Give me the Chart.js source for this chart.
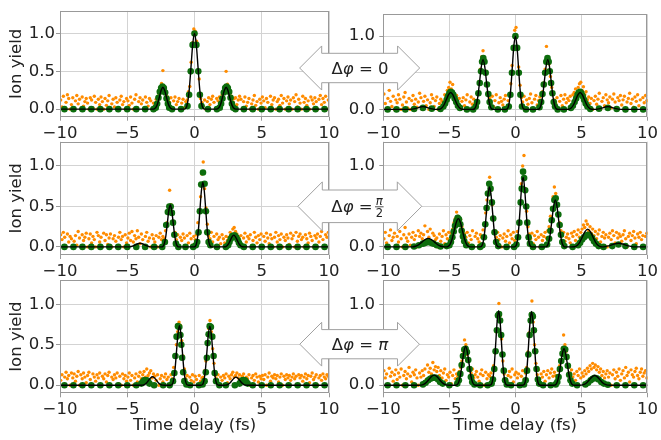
<!DOCTYPE html>
<html><head><meta charset="utf-8">
<script src="https://cdn.jsdelivr.net/npm/chart.js@4.4.1/dist/chart.umd.min.js"></script>
<style>
html,body{margin:0;padding:0;background:#fff;width:661px;height:440px;overflow:hidden}
#wrap{position:relative;width:661px;height:440px}
canvas{position:absolute;left:0;top:0}
svg{position:absolute;left:0;top:0}
</style></head><body><div id="wrap"></div>
<script>
// ---------- DATA ----------
const xTickValues = [-10, -5, 0, 5, 10];
const xTickLabels = ['\u221210', '\u22125', '0', '5', '10'];
const yTickValues = [0, 0.5, 1.0];
const yTickLabels = ['0.0', '0.5', '1.0'];
const phaseLabels = ['0', '\u03c0/2', '\u03c0'];

// time delays of the measured (orange) samples, fs
const delayGrid = [
-9.95,-9.85,-9.75,-9.65,-9.55,-9.45,-9.35,-9.25,-9.15,-9.05,
-8.95,-8.85,-8.75,-8.65,-8.55,-8.45,-8.35,-8.25,-8.15,-8.05,
-7.95,-7.85,-7.75,-7.65,-7.55,-7.45,-7.35,-7.25,-7.15,-7.05,
-6.95,-6.85,-6.75,-6.65,-6.55,-6.45,-6.35,-6.25,-6.15,-6.05,
-5.95,-5.85,-5.75,-5.65,-5.55,-5.45,-5.35,-5.25,-5.15,-5.05,
-4.95,-4.85,-4.75,-4.65,-4.55,-4.45,-4.35,-4.25,-4.15,-4.05,
-3.95,-3.85,-3.75,-3.65,-3.55,-3.45,-3.35,-3.25,-3.15,-3.05,
-2.95,-2.85,-2.75,-2.65,-2.55,-2.45,-2.35,-2.25,-2.15,-2.05,
-1.95,-1.85,-1.75,-1.65,-1.55,-1.45,-1.35,-1.25,-1.15,-1.05,
-0.95,-0.85,-0.75,-0.65,-0.55,-0.45,-0.35,-0.25,-0.15,-0.05,
0.05,0.15,0.25,0.35,0.45,0.55,0.65,0.75,0.85,0.95,
1.05,1.15,1.25,1.35,1.45,1.55,1.65,1.75,1.85,1.95,
2.05,2.15,2.25,2.35,2.45,2.55,2.65,2.75,2.85,2.95,
3.05,3.15,3.25,3.35,3.45,3.55,3.65,3.75,3.85,3.95,
4.05,4.15,4.25,4.35,4.45,4.55,4.65,4.75,4.85,4.95,
5.05,5.15,5.25,5.35,5.45,5.55,5.65,5.75,5.85,5.95,
6.05,6.15,6.25,6.35,6.45,6.55,6.65,6.75,6.85,6.95,
7.05,7.15,7.25,7.35,7.45,7.55,7.65,7.75,7.85,7.95,
8.05,8.15,8.25,8.35,8.45,8.55,8.65,8.75,8.85,8.95,
9.05,9.15,9.25,9.35,9.45,9.55,9.65,9.75,9.85,9.95];

// measured ion yield (orange) per panel
const orangeA = [
0.12,0.03,0.17,0,0.09,0.19,0.14,0,0.06,0.15,
0,0.11,0.18,0.07,0.13,0,0.16,0.04,0.1,0.14,
0.08,0,0.15,0.12,0.02,0.17,0.09,0,0.13,0.06,
0.16,0.1,0,0.14,0.05,0.11,0.18,0,0.07,0.13,
0.03,0.15,0.09,0,0.12,0.17,0.06,0.1,0,0.14,
0.11,0.05,0.16,0.08,0,0.13,0.19,0.02,0.1,0.15,
0.07,0.12,0,0.16,0.09,0.04,0.14,0.11,0,0.08,
0.05,0.13,0.03,0.18,0.27,0.34,0.51,0.3,0.24,0.17,
0.12,0.09,0.15,0,0.11,0.16,0.06,0.1,0.14,0,
0.08,0.13,0.02,0.1,0.12,0.23,0.3,0.62,0.88,1.06,
1.03,0.9,0.52,0.4,0.14,0.09,0.04,0.12,0,0.1,
0.15,0.06,0.13,0.17,0.09,0,0.14,0.11,0.16,0.08,
0.19,0.22,0.3,0.5,0.33,0.28,0.21,0.17,0.1,0.14,
0.15,0.06,0.12,0.17,0.13,0,0.1,0.16,0.04,0.09,
0.14,0,0.07,0.12,0.18,0.05,0.1,0,0.13,0.08,
0.16,0.11,0.02,0.14,0.09,0,0.17,0.06,0.12,0.15,
0,0.1,0.13,0.05,0.18,0.08,0.14,0,0.11,0.16,
0.07,0.12,0,0.15,0.1,0.19,0.03,0.13,0.08,0,
0.17,0.09,0.14,0.05,0.11,0,0.16,0.12,0.07,0.15,
0.1,0,0.13,0.18,0.06,0.14,0.09,0.17,0,0.12];
const orangeB = [
0.21,0.08,0,0.15,0.26,0.11,0.04,0.18,0,0.13,
0.09,0.2,0.14,0,0.06,0.17,0.23,0.1,0.02,0.15,
0,0.12,0.19,0.07,0.14,0.03,0.1,0.22,0.16,0,
0.11,0.18,0.05,0.13,0,0.09,0.2,0.15,0.04,0.12,
0.17,0,0.08,0.14,0.11,0.06,0.2,0.18,0.26,0.3,
0.37,0.28,0.34,0.21,0.14,0.19,0.08,0.15,0,0.11,
0.16,0.05,0.13,0.2,0,0.1,0.17,0.07,0.14,0.09,
0.12,0.21,0.38,0.55,0.72,0.8,0.66,0.52,0.34,0.22,
0.15,0.08,0.18,0.04,0.12,0.2,0,0.09,0.16,0.11,
0.06,0.14,0.19,0.03,0.12,0.2,0.35,0.6,0.86,1.08,
1.12,0.84,0.58,0.33,0.16,0.1,0.18,0,0.13,0.07,
0.15,0.21,0.09,0,0.14,0.19,0.06,0.12,0.17,0.1,
0.24,0.36,0.55,0.86,0.72,0.62,0.45,0.3,0.2,0.13,
0.08,0.16,0,0.11,0.19,0.05,0.14,0.2,0.09,0.15,
0.12,0.18,0.04,0.2,0.23,0.28,0.19,0.3,0.35,0.37,
0.26,0.31,0.2,0.24,0.13,0.17,0.08,0.15,0,0.12,
0.18,0.07,0.14,0.22,0,0.11,0.16,0.05,0.2,0.13,
0.09,0.17,0.02,0.14,0.21,0.1,0,0.16,0.12,0.19,
0.06,0.13,0.18,0,0.1,0.15,0.22,0.08,0.14,0.03,
0.17,0.11,0.2,0.05,0.13,0,0.16,0.09,0.19,0.12];
const orangeC = [
0.15,0.09,0.18,0.12,0,0.16,0.06,0.13,0.1,0,
0.07,0.14,0.02,0.19,0.11,0,0.15,0.08,0.12,0.17,
0,0.1,0.16,0.05,0.13,0.09,0,0.18,0.14,0.06,
0.12,0,0.17,0.08,0.15,0.03,0.11,0.16,0,0.1,
0.14,0.07,0,0.12,0.18,0.09,0.13,0,0.15,0.05,
0.11,0.17,0.08,0.19,0.06,0.14,0.1,0.2,0.12,0.04,
0.16,0.09,0,0.13,0.18,0.07,0.11,0,0.15,0.1,
0.06,0.14,0,0.12,0.17,0.09,0.13,0.1,0.2,0.3,
0.45,0.7,0.52,0.42,0.3,0.18,0.09,0.15,0,0.12,
0.08,0.16,0.11,0,0.14,0.05,0.17,0.1,0.02,0.13,
0.09,0.15,0.3,0.45,0.62,0.9,1.05,0.72,0.48,0.28,
0.14,0.1,0.18,0.06,0.13,0,0.16,0.09,0.12,0.04,
0.15,0.1,0.05,0.13,0.08,0.12,0.18,0.15,0.22,0.24,
0.19,0.16,0.12,0.09,0.14,0,0.11,0.17,0.06,0.13,
0.1,0.15,0,0.08,0.18,0.12,0.05,0.14,0.09,0.16,
0,0.13,0.07,0.17,0.11,0.04,0.15,0.1,0,0.12,
0.18,0.06,0.14,0.09,0.16,0,0.12,0.08,0.15,0.11,
0.03,0.17,0.1,0.14,0,0.18,0.07,0.13,0.16,0.09,
0.12,0,0.15,0.1,0.05,0.17,0.13,0.08,0,0.14,
0.11,0.16,0.06,0.13,0.19,0.09,0,0.15,0.12,0.18];
const orangeD = [
0.1,0.18,0.05,0,0.14,0.21,0.08,0.12,0.17,0,
0.13,0.06,0.19,0.1,0,0.15,0.24,0.11,0.07,0.16,
0.02,0.12,0.18,0.09,0.14,0,0.2,0.13,0.17,0.1,
0.15,0.26,0.08,0.19,0.12,0.22,0.06,0.17,0.14,0.09,
0.11,0,0.16,0.07,0.13,0.2,0.04,0.15,0.1,0.18,
0.08,0.17,0.22,0.3,0.35,0.43,0.38,0.3,0.34,0.25,
0.2,0.16,0.12,0.18,0.05,0.14,0.09,0.2,0,0.13,
0.17,0.1,0.06,0.15,0.12,0.21,0.29,0.42,0.58,0.78,
0.86,0.7,0.52,0.35,0.2,0.12,0.18,0.09,0.14,0,
0.11,0.16,0.07,0.13,0.2,0.05,0.15,0.1,0.18,0.08,
0.13,0.19,0.3,0.55,0.78,1.0,1.13,0.72,0.44,0.25,
0.16,0.1,0.17,0.04,0.14,0.09,0.19,0.12,0,0.15,
0.08,0.13,0.18,0.11,0.2,0.25,0.38,0.48,0.62,0.74,
0.66,0.52,0.4,0.3,0.2,0.14,0.18,0.07,0.12,0.16,
0.1,0.05,0.17,0.13,0.19,0.08,0.15,0.21,0.12,0.18,
0.22,0.27,0.24,0.32,0.28,0.2,0.25,0.17,0.22,0.14,
0.19,0.1,0.16,0.21,0.06,0.13,0.18,0.11,0.15,0,
0.12,0.17,0.09,0.2,0.14,0.05,0.18,0.11,0.16,0.13,
0.07,0.15,0.2,0.1,0,0.13,0.17,0.08,0.14,0.19,
0.11,0.04,0.16,0.12,0.18,0.09,0.14,0,0.13,0.17];
const orangeE = [
0.06,0.13,0,0.1,0.16,0.08,0.12,0,0.15,0.09,
0.14,0.05,0.11,0.17,0,0.13,0.08,0.15,0.1,0.03,
0.12,0.16,0.07,0,0.14,0.1,0.05,0.13,0.09,0.15,
0,0.11,0.08,0.14,0.04,0.12,0.16,0,0.1,0.07,
0.13,0.09,0.15,0.02,0.11,0,0.14,0.08,0.12,0.05,
0.1,0.15,0.06,0.12,0,0.09,0.14,0.04,0.11,0.16,
0.08,0.13,0.17,0.1,0.2,0.12,0.15,0.18,0.09,0.14,
0.11,0.06,0.13,0,0.08,0.12,0.04,0.1,0.14,0.07,
0.1,0,0.13,0.08,0.22,0.35,0.5,0.66,0.78,0.74,
0.55,0.36,0.2,0.08,0.12,0,0.1,0.06,0.13,0.04,
0.11,0.07,0,0.12,0.05,0.09,0.1,0.18,0.3,0.52,
0.7,0.8,0.66,0.45,0.27,0.12,0.08,0.13,0,0.1,
0.06,0.12,0.09,0.14,0.03,0.11,0.08,0.13,0.16,0.1,
0.12,0.15,0.09,0.13,0.07,0.11,0.14,0.05,0.1,0.08,
0.13,0,0.09,0.12,0.06,0.14,0.1,0.04,0.11,0.08,
0.12,0.07,0.13,0,0.1,0.15,0.05,0.11,0.09,0.13,
0.08,0.12,0.04,0.1,0.14,0,0.11,0.07,0.13,0.09,
0.12,0.06,0.1,0.14,0.08,0.11,0,0.13,0.09,0.12,
0.05,0.1,0.14,0.08,0.12,0.03,0.11,0.15,0.07,0.1,
0.13,0,0.09,0.12,0.06,0.14,0.1,0.08,0.13,0.11];
const orangeF = [
0.18,0.09,0.14,0,0.21,0.11,0.16,0.05,0.13,0.19,
0.07,0.15,0.1,0.2,0,0.12,0.17,0.08,0.14,0.22,
0.11,0.04,0.16,0.13,0.19,0.09,0,0.15,0.1,0.18,
0.12,0.2,0.07,0.25,0.16,0.21,0.14,0.28,0.19,0.23,
0.17,0.22,0.12,0.18,0.09,0.15,0.2,0.06,0.13,0.1,
0.16,0.02,0.12,0.19,0.08,0.14,0.11,0.17,0.22,0.3,
0.42,0.56,0.5,0.38,0.33,0.22,0.15,0.2,0.09,0.13,
0.17,0.1,0.05,0.14,0.19,0.12,0,0.16,0.08,0.13,
0.11,0.15,0.09,0.24,0.4,0.66,0.88,1.01,0.86,0.57,
0.3,0.14,0.18,0.06,0.12,0.17,0.1,0.2,0.04,0.13,
0.16,0.09,0.14,0,0.11,0.18,0.07,0.15,0.22,0.41,
0.65,0.88,1.04,0.78,0.5,0.27,0.13,0.19,0.08,0.14,
0.1,0.17,0.05,0.13,0.18,0.09,0.15,0.2,0.11,0.16,
0.12,0.08,0.18,0.24,0.3,0.45,0.62,0.5,0.42,0.34,
0.22,0.15,0.19,0.1,0.14,0.06,0.17,0.12,0.2,0.09,
0.15,0.11,0.18,0.14,0.21,0.17,0.24,0.2,0.27,0.22,
0.25,0.19,0.23,0.16,0.2,0.12,0.17,0.09,0.14,0.18,
0.1,0.15,0,0.13,0.19,0.08,0.16,0.11,0.2,0.06,
0.14,0.18,0.09,0.22,0.12,0.16,0.04,0.19,0.13,0.1,
0.17,0.21,0.12,0.08,0.16,0.2,0.11,0.15,0.18,0.09];

// retrieved yield (green dots) per panel, [delay, yield]
const greenA = [[-9.67,0],[-9,0],[-8.33,0],[-7.67,0],[-7,0],[-6.33,0],[-5.67,0],[-5,0],[-4.33,0],[-3.67,0],[-3.05,0],
[-2.88,0.02],[-2.78,0.07],[-2.68,0.15],[-2.58,0.23],[-2.48,0.28],[-2.38,0.3],[-2.28,0.28],[-2.18,0.22],[-2.08,0.14],[-1.98,0.07],[-1.88,0.02],[-1.67,0],[-1,0],
[-0.52,0.04],[-0.4,0.19],[-0.28,0.5],[-0.14,0.85],[0,1],[0.14,0.85],[0.28,0.5],[0.4,0.19],[0.52,0.04],
[1,0],[1.67,0],[1.88,0.02],[1.98,0.07],[2.08,0.14],[2.18,0.22],[2.28,0.28],[2.38,0.3],[2.48,0.28],[2.58,0.23],[2.68,0.15],[2.78,0.07],[2.88,0.02],[3.05,0],
[3.67,0],[4.33,0],[5,0],[5.67,0],[6.33,0],[7,0],[7.67,0],[8.33,0],[9,0],[9.67,0]];
const greenB = [[-9.67,0],[-9,0],[-8.33,0],[-7.67,0.005],[-7,0.02],[-6.33,0.01],[-5.67,0.005],
[-5.45,0.04],[-5.32,0.08],[-5.2,0.13],[-5.1,0.18],[-5.0,0.22],[-4.9,0.24],[-4.8,0.23],[-4.7,0.2],[-4.6,0.15],[-4.48,0.1],[-4.35,0.05],[-4.2,0.02],[-3.67,0],[-3.2,0],
[-3.0,0.04],[-2.9,0.1],[-2.8,0.22],[-2.7,0.36],[-2.6,0.52],[-2.52,0.65],[-2.43,0.7],[-2.34,0.65],[-2.25,0.5],[-2.15,0.34],[-2.05,0.21],[-1.95,0.1],[-1.82,0.03],[-1.33,0],[-0.8,0],
[-0.5,0.04],[-0.38,0.2],[-0.26,0.5],[-0.13,0.84],[0,1],[0.13,0.84],[0.26,0.5],[0.38,0.2],[0.5,0.04],
[0.8,0],[1.33,0],[1.82,0.03],[1.95,0.1],[2.05,0.21],[2.15,0.34],[2.25,0.5],[2.34,0.65],[2.43,0.7],[2.52,0.65],[2.6,0.52],[2.7,0.36],[2.8,0.22],[2.9,0.1],[3.0,0.04],[3.2,0],[3.67,0],
[4.2,0.02],[4.35,0.05],[4.48,0.1],[4.6,0.15],[4.7,0.2],[4.8,0.23],[4.9,0.24],[5.0,0.22],[5.1,0.18],[5.2,0.13],[5.32,0.08],[5.45,0.04],[5.67,0.005],[6.33,0.01],[7,0.02],[7.67,0.005],[8.33,0],[9,0],[9.67,0]];
const greenC = [[-9.67,0],[-9,0],[-8.33,0],[-7.67,0],[-7,0],[-6.33,0],[-5.67,0],[-5,0],[-4.33,0],[-3.67,0],[-3,0],[-2.4,0],
[-2.2,0.06],[-2.1,0.27],[-1.98,0.43],[-1.87,0.5],[-1.77,0.5],[-1.68,0.42],[-1.6,0.3],[-1.5,0.15],[-1.38,0.04],[-1.2,0],[-0.67,0],[-0.1,0],
[0.1,0.02],[0.2,0.06],[0.3,0.18],[0.4,0.44],[0.5,0.77],[0.63,0.92],[0.75,0.78],[0.85,0.44],[0.95,0.18],[1.05,0.06],[1.18,0.02],[1.67,0],[2.33,0],
[2.5,0.02],[2.6,0.06],[2.7,0.1],[2.8,0.13],[2.9,0.14],[3.0,0.14],[3.1,0.12],[3.2,0.09],[3.3,0.05],[3.42,0.02],[3.67,0],
[4.33,0],[5,0],[5.67,0],[6.33,0],[7,0],[7.67,0],[8.33,0],[9,0],[9.67,0]];
const greenD = [[-9.67,0],[-9,0],[-8.33,0],[-7.67,0.005],[-7.3,0.02],[-7.0,0.04],[-6.8,0.05],[-6.6,0.06],[-6.4,0.05],[-6.2,0.04],[-5.95,0.02],[-5.67,0.005],[-5.2,0.01],
[-5.0,0.02],[-4.88,0.06],[-4.77,0.12],[-4.67,0.19],[-4.57,0.26],[-4.47,0.32],[-4.37,0.36],[-4.27,0.34],[-4.17,0.28],[-4.07,0.2],[-3.97,0.13],[-3.87,0.07],[-3.72,0.02],[-3.3,0],[-2.67,0],
[-2.5,0.02],[-2.38,0.12],[-2.28,0.28],[-2.18,0.48],[-2.08,0.66],[-1.98,0.78],[-1.88,0.72],[-1.78,0.55],[-1.68,0.35],[-1.58,0.18],[-1.46,0.06],[-1.3,0.01],[-0.67,0],[-0.1,0],
[0.08,0.03],[0.2,0.12],[0.3,0.3],[0.4,0.55],[0.48,0.72],[0.58,0.93],[0.66,0.85],[0.74,0.7],[0.82,0.5],[0.9,0.3],[1.0,0.12],[1.1,0.04],[1.33,0],[2.0,0],
[2.4,0.03],[2.55,0.1],[2.65,0.2],[2.75,0.33],[2.85,0.47],[2.95,0.58],[3.05,0.6],[3.15,0.52],[3.25,0.4],[3.35,0.27],[3.45,0.15],[3.55,0.06],[3.7,0.01],[4.33,0],
[4.75,0.02],[4.9,0.05],[5.05,0.09],[5.2,0.12],[5.35,0.14],[5.5,0.15],[5.65,0.14],[5.8,0.11],[5.95,0.07],[6.1,0.04],[6.3,0.01],[6.67,0],[7.33,0.01],[7.8,0.03],[8.33,0.01],[9,0],[9.67,0]];
const greenE = [[-9.67,0],[-9,0],[-8.33,0],[-7.67,0],[-7,0],[-6.33,0],[-5.67,0],[-5,0],[-4.33,0],
[-3.95,0.02],[-3.85,0.04],[-3.75,0.06],[-3.65,0.065],[-3.55,0.06],[-3.45,0.045],[-3.35,0.02],[-3.0,0],[-2.33,0],[-1.85,0],
[-1.6,0.05],[-1.5,0.15],[-1.42,0.36],[-1.33,0.6],[-1.23,0.73],[-1.13,0.72],[-1.05,0.62],[-0.98,0.5],[-0.92,0.34],[-0.84,0.16],[-0.75,0.05],[-0.6,0.01],[-0.33,0],
[0.33,0],[0.6,0.01],[0.75,0.05],[0.84,0.16],[0.92,0.34],[0.98,0.52],[1.05,0.63],[1.13,0.73],[1.22,0.72],[1.32,0.6],[1.42,0.36],[1.5,0.15],[1.6,0.05],[1.85,0],[2.33,0],[3.0,0],
[3.35,0.02],[3.45,0.045],[3.55,0.06],[3.65,0.065],[3.75,0.06],[3.85,0.04],[3.95,0.02],[4.33,0],[5,0],[5.67,0],[6.33,0],[7,0],[7.67,0],[8.33,0],[9,0],[9.67,0]];
const greenF = [[-9.67,0],[-9,0],[-8.33,0],[-7.67,0],[-7.0,0.01],[-6.8,0.03],[-6.6,0.06],[-6.45,0.08],[-6.3,0.09],[-6.15,0.095],[-6.0,0.09],[-5.85,0.07],[-5.7,0.04],[-5.5,0.02],[-5.0,0],
[-4.4,0.02],[-4.28,0.06],[-4.17,0.14],[-4.07,0.25],[-3.97,0.36],[-3.87,0.44],[-3.77,0.45],[-3.67,0.41],[-3.57,0.31],[-3.47,0.2],[-3.37,0.1],[-3.27,0.04],[-3.1,0.01],[-2.67,0],[-2.1,0],
[-1.8,0.02],[-1.7,0.07],[-1.6,0.2],[-1.5,0.42],[-1.4,0.68],[-1.32,0.86],[-1.24,0.88],[-1.16,0.8],[-1.08,0.62],[-0.98,0.38],[-0.88,0.18],[-0.78,0.06],[-0.65,0.01],[-0.33,0],
[0.33,0],[0.65,0.01],[0.78,0.06],[0.88,0.18],[0.98,0.38],[1.08,0.62],[1.16,0.8],[1.24,0.87],[1.32,0.85],[1.4,0.68],[1.5,0.42],[1.6,0.2],[1.7,0.07],[1.8,0.02],[2.1,0],[2.67,0],
[3.05,0.01],[3.17,0.04],[3.27,0.1],[3.37,0.2],[3.47,0.3],[3.57,0.39],[3.67,0.45],[3.77,0.44],[3.87,0.35],[3.97,0.24],[4.07,0.13],[4.17,0.06],[4.3,0.02],[4.67,0],
[5.3,0.01],[5.5,0.03],[5.7,0.06],[5.85,0.08],[6.0,0.09],[6.15,0.085],[6.3,0.07],[6.5,0.04],[6.7,0.02],[7.0,0.005],[7.67,0],[8.33,0],[9,0],[9.67,0]];

// simulated yield (black line) per panel, [delay, yield]
const blackA = [[-10,0],[-3.13,0],[-3.0,0.003],[-2.87,0.023],[-2.74,0.075],[-2.61,0.162],[-2.48,0.249],[-2.35,0.29],[-2.22,0.249],[-2.09,0.162],[-1.96,0.075],[-1.83,0.023],[-1.7,0.003],[-1.57,0],
[-0.78,0],[-0.65,0.01],[-0.52,0.08],[-0.39,0.26],[-0.26,0.56],[-0.13,0.86],[0,1],[0.13,0.86],[0.26,0.56],[0.39,0.26],[0.52,0.08],[0.65,0.01],[0.78,0],
[1.57,0],[1.7,0.003],[1.83,0.023],[1.96,0.075],[2.09,0.162],[2.22,0.249],[2.35,0.29],[2.48,0.249],[2.61,0.162],[2.74,0.075],[2.87,0.023],[3.0,0.003],[3.13,0],[10,0]];
const blackB = [[-10,0],[-8.2,0],[-8.0,0.0004],[-7.8,0.003],[-7.6,0.01],[-7.4,0.021],[-7.2,0.032],[-7.0,0.037],[-6.8,0.032],[-6.6,0.021],[-6.4,0.01],[-6.2,0.003],[-6.05,0],
[-5.75,0.002],[-5.58,0.018],[-5.41,0.06],[-5.24,0.129],[-5.07,0.198],[-4.9,0.23],[-4.73,0.198],[-4.56,0.129],[-4.39,0.06],[-4.22,0.018],[-4.05,0.002],[-3.88,0],
[-3.23,0],[-3.1,0.007],[-2.97,0.054],[-2.84,0.177],[-2.71,0.381],[-2.58,0.585],[-2.45,0.68],[-2.32,0.585],[-2.19,0.381],[-2.06,0.177],[-1.93,0.054],[-1.8,0.007],[-1.67,0],
[-0.72,0],[-0.6,0.01],[-0.48,0.08],[-0.36,0.26],[-0.24,0.56],[-0.12,0.86],[0,1],[0.12,0.86],[0.24,0.56],[0.36,0.26],[0.48,0.08],[0.6,0.01],[0.72,0],
[1.67,0],[1.8,0.007],[1.93,0.054],[2.06,0.177],[2.19,0.381],[2.32,0.585],[2.45,0.68],[2.58,0.585],[2.71,0.381],[2.84,0.177],[2.97,0.054],[3.1,0.007],[3.23,0],
[3.88,0],[4.05,0.002],[4.22,0.018],[4.39,0.06],[4.56,0.129],[4.73,0.198],[4.9,0.23],[5.07,0.198],[5.24,0.129],[5.41,0.06],[5.58,0.018],[5.75,0.002],[6.05,0],
[6.2,0.003],[6.4,0.01],[6.6,0.021],[6.8,0.032],[7.0,0.037],[7.2,0.032],[7.4,0.021],[7.6,0.01],[7.8,0.003],[8.0,0.0004],[8.2,0],[10,0]];
const blackC = [[-10,0],[-5.07,0],[-4.9,0.0005],[-4.73,0.004],[-4.56,0.012],[-4.39,0.025],[-4.22,0.039],[-4.05,0.045],[-3.88,0.039],[-3.71,0.025],[-3.54,0.012],[-3.37,0.004],[-3.2,0.0005],[-3.03,0],
[-2.46,0],[-2.35,0.005],[-2.24,0.042],[-2.13,0.135],[-2.02,0.291],[-1.91,0.447],[-1.8,0.52],[-1.69,0.447],[-1.58,0.291],[-1.47,0.135],[-1.36,0.042],[-1.25,0.005],[-1.14,0],
[-0.04,0],[0.07,0.008],[0.18,0.064],[0.29,0.208],[0.4,0.448],[0.51,0.688],[0.62,0.8],[0.73,0.688],[0.84,0.448],[0.95,0.208],[1.06,0.064],[1.17,0.008],[1.28,0],
[2.14,0],[2.27,0.0015],[2.4,0.012],[2.53,0.038],[2.66,0.081],[2.79,0.125],[2.92,0.145],[3.05,0.125],[3.18,0.081],[3.31,0.038],[3.44,0.012],[3.57,0.0015],[3.7,0],[10,0]];
const blackD = [[-10,0],[-8.04,0],[-7.8,0.001],[-7.56,0.008],[-7.32,0.027],[-7.08,0.059],[-6.84,0.09],[-6.6,0.105],[-6.36,0.09],[-6.12,0.059],[-5.88,0.027],[-5.64,0.008],[-5.4,0.001],
[-5.28,0],[-5.12,0.0035],[-4.96,0.028],[-4.8,0.091],[-4.64,0.196],[-4.48,0.301],[-4.32,0.35],[-4.16,0.301],[-4.0,0.196],[-3.84,0.091],[-3.68,0.028],[-3.52,0.0035],[-3.36,0],
[-2.68,0],[-2.56,0.007],[-2.44,0.059],[-2.32,0.192],[-2.2,0.414],[-2.08,0.636],[-1.96,0.74],[-1.84,0.636],[-1.72,0.414],[-1.6,0.192],[-1.48,0.059],[-1.36,0.007],[-1.24,0],
[-0.08,0],[0.03,0.009],[0.14,0.069],[0.25,0.224],[0.36,0.482],[0.47,0.74],[0.58,0.86],[0.69,0.74],[0.8,0.482],[0.91,0.224],[1.02,0.069],[1.13,0.009],[1.24,0],
[2.24,0],[2.37,0.006],[2.5,0.046],[2.63,0.151],[2.76,0.325],[2.89,0.499],[3.02,0.58],[3.15,0.499],[3.28,0.325],[3.41,0.151],[3.54,0.046],[3.67,0.006],[3.8,0],
[4.27,0],[4.47,0.002],[4.67,0.018],[4.87,0.057],[5.07,0.123],[5.27,0.189],[5.47,0.22],[5.67,0.189],[5.87,0.123],[6.07,0.057],[6.27,0.018],[6.47,0.002],
[6.55,0.0005],[6.8,0.004],[7.05,0.012],[7.3,0.025],[7.55,0.039],[7.8,0.045],[8.05,0.039],[8.3,0.025],[8.55,0.012],[8.8,0.004],[9.05,0.0005],[9.3,0],[10,0]];
const blackE = [[-10,0],[-4.02,0],[-3.87,0.001],[-3.72,0.008],[-3.57,0.027],[-3.42,0.059],[-3.27,0.09],[-3.12,0.105],[-2.97,0.09],[-2.82,0.059],[-2.67,0.027],[-2.52,0.008],[-2.37,0.001],[-2.22,0],
[-1.78,0],[-1.67,0.007],[-1.56,0.059],[-1.45,0.191],[-1.34,0.412],[-1.23,0.632],[-1.12,0.735],[-1.01,0.632],[-0.9,0.412],[-0.79,0.191],[-0.68,0.059],[-0.57,0.007],[-0.46,0],
[0.48,0],[0.59,0.007],[0.7,0.058],[0.81,0.19],[0.92,0.409],[1.03,0.628],[1.14,0.73],[1.25,0.628],[1.36,0.409],[1.47,0.19],[1.58,0.058],[1.69,0.007],[1.8,0],
[2.18,0],[2.33,0.001],[2.48,0.008],[2.63,0.026],[2.78,0.056],[2.93,0.086],[3.08,0.1],[3.23,0.086],[3.38,0.056],[3.53,0.026],[3.68,0.008],[3.83,0.001],[3.98,0],[10,0]];
const blackF = [[-10,0],[-7.35,0],[-7.15,0.001],[-6.95,0.01],[-6.75,0.033],[-6.55,0.07],[-6.35,0.108],[-6.15,0.125],[-5.95,0.108],[-5.75,0.07],[-5.55,0.033],[-5.35,0.01],[-5.15,0.001],[-4.95,0],
[-4.55,0],[-4.42,0.005],[-4.29,0.038],[-4.16,0.125],[-4.03,0.269],[-3.9,0.413],[-3.77,0.48],[-3.64,0.413],[-3.51,0.269],[-3.38,0.125],[-3.25,0.038],[-3.12,0.005],[-2.99,0],
[-1.93,0],[-1.82,0.009],[-1.71,0.074],[-1.6,0.239],[-1.49,0.515],[-1.38,0.791],[-1.27,0.92],[-1.16,0.791],[-1.05,0.515],[-0.94,0.239],[-0.83,0.074],[-0.72,0.009],[-0.61,0],
[0.56,0],[0.67,0.009],[0.78,0.073],[0.89,0.237],[1.0,0.51],[1.11,0.783],[1.22,0.91],[1.33,0.783],[1.44,0.51],[1.55,0.237],[1.66,0.073],[1.77,0.009],[1.88,0],
[2.9,0],[3.03,0.0045],[3.16,0.036],[3.29,0.117],[3.42,0.252],[3.55,0.387],[3.68,0.45],[3.81,0.387],[3.94,0.252],[4.07,0.117],[4.2,0.036],[4.33,0.0045],[4.46,0],
[4.8,0],[5.0,0.001],[5.2,0.01],[5.4,0.031],[5.6,0.067],[5.8,0.103],[6.0,0.12],[6.2,0.103],[6.4,0.067],[6.6,0.031],[6.8,0.01],[7.0,0.001],[7.2,0],[10,0]];

// ---------- LAYOUT ----------
const W = 661, H = 440;
const colBox = [[60, 329], [383.3, 651]];
const rowBox = [[3.3, 116.7], [141.7, 255], [280, 393.3]];
const FONT = 'DejaVu Sans';
const wrap = document.getElementById('wrap');

const framePlugin = {
  id: 'frame',
  afterDraw(chart) {
    const {ctx, chartArea: a} = chart;
    ctx.save();
    ctx.strokeStyle = '#999999';
    ctx.lineWidth = 1;
    ctx.strokeRect(Math.round(a.left) + 0.5, Math.round(a.top) + 0.5, Math.round(a.right - a.left) - 1, Math.round(a.bottom - a.top) - 1);
    ctx.restore();
  }
};

const pairs = arr => arr.map(p => ({x: p[0], y: p[1]}));

function panel(col, row, black, green, orange) {
  const c = document.createElement('canvas');
  c.width = W; c.height = H;
  wrap.appendChild(c);
  const [L, R] = colBox[col];
  const [T, B] = rowBox[row];
  const yW = 60, xH = 46;
  new Chart(c, {
    type: 'scatter',
    data: {datasets: [
      {data: pairs(black), showLine: true, borderColor: '#000', borderWidth: 1.4, pointRadius: 0, cubicInterpolationMode: 'monotone'},
      {data: pairs(green), showLine: false, pointRadius: 3.3, backgroundColor: '#0d6d0d', borderWidth: 0},
      {data: delayGrid.map((x, i) => ({x: x, y: orange[i]})), showLine: false, pointRadius: 1.7, backgroundColor: '#ff8c00', borderWidth: 0}
    ]},
    options: {
      responsive: false, animation: false, events: [],
      layout: {padding: {left: L - yW, right: W - R, top: T, bottom: H - B - xH}},
      plugins: {legend: {display: false}, tooltip: {enabled: false}},
      scales: {
        x: {
          type: 'linear', min: -10, max: 10,
          afterFit: s => { s.height = xH; },
          afterBuildTicks: s => { s.ticks = xTickValues.map(v => ({value: v})); },
          grid: {color: '#d3d3d3', lineWidth: 1, tickColor: '#999999', tickLength: 4},
          border: {display: false},
          ticks: {font: {family: FONT, size: 16.5}, color: '#222', padding: 3, maxRotation: 0, autoSkip: false,
                  callback: (v) => xTickLabels[xTickValues.indexOf(v)]},
          title: {display: row === 2, text: 'Time delay (fs)', font: {family: FONT, size: 16.5}, color: '#222', padding: {top: 0, bottom: 3.5}}
        },
        y: {
          type: 'linear', min: -0.1, max: 1.3,
          afterFit: s => { s.width = yW; },
          afterBuildTicks: s => { s.ticks = yTickValues.map(v => ({value: v})); },
          grid: {color: '#d3d3d3', lineWidth: 1, tickColor: '#999999', tickLength: 4},
          border: {display: false},
          ticks: {font: {family: FONT, size: 16.5}, color: '#222', padding: col === 0 ? 1 : 4.3, autoSkip: false,
                  callback: (v) => yTickLabels[yTickValues.indexOf(v)]},
          title: {display: col === 0, text: 'Ion yield', font: {family: FONT, size: 16.5}, color: '#222', padding: {top: 6.6, bottom: 0}}
        }
      }
    },
    plugins: [framePlugin]
  });
}

panel(0, 0, blackA, greenA, orangeA);
panel(1, 0, blackB, greenB, orangeB);
panel(0, 1, blackC, greenC, orangeC);
panel(1, 1, blackD, greenD, orangeD);
panel(0, 2, blackE, greenE, orangeE);
panel(1, 2, blackF, greenF, orangeF);

// ---------- double arrows with phase labels ----------
const NS = 'http://www.w3.org/2000/svg';
const svg = document.createElementNS(NS, 'svg');
svg.setAttribute('width', W); svg.setAttribute('height', H);
wrap.appendChild(svg);
function el(tag, attrs, parent) {
  const e = document.createElementNS(NS, tag);
  for (const k in attrs) e.setAttribute(k, attrs[k]);
  (parent || svg).appendChild(e);
  return e;
}
const arrows = [
  {cy: 68, dx: 14.7, bl: 321.7, br: 397.6},
  {cy: 206.3, dx: 16.3, bl: 322.3, br: 397.3},
  {cy: 344.2, dx: 14.6, bl: 321.7, br: 397.5}
];
arrows.forEach((a, i) => {
  const dxx = a.dx / 2, tl = a.bl - a.dx - dxx, tr = a.br + a.dx + dxx;
  const pts = [[a.bl, a.cy - a.dx], [a.br, a.cy - a.dx], [a.br, a.cy - a.dx - dxx], [tr, a.cy], [a.br, a.cy + a.dx + dxx],
               [a.br, a.cy + a.dx], [a.bl, a.cy + a.dx], [a.bl, a.cy + a.dx + dxx], [tl, a.cy], [a.bl, a.cy - a.dx - dxx]];
  el('polygon', {points: pts.map(p => p.join(',')).join(' '), fill: '#fff', stroke: '#a0a0a0', 'stroke-width': 1});
  const lab = phaseLabels[i];
  if (lab.indexOf('/') < 0) {
    const t = el('text', {x: 360, y: a.cy + 6, 'text-anchor': 'middle', 'font-family': FONT, 'font-size': 16.5, fill: '#222'});
    t.appendChild(document.createTextNode('\u0394'));
    const s1 = el('tspan', {'font-style': 'italic'}, t); s1.textContent = '\u03c6';
    t.appendChild(document.createTextNode(' = '));
    if (lab === '\u03c0') { const s2 = el('tspan', {'font-style': 'italic'}, t); s2.textContent = lab; }
    else t.appendChild(document.createTextNode(lab));
  } else {
    const [num, den] = lab.split('/');
    const t = el('text', {x: 352, y: a.cy + 6, 'text-anchor': 'middle', 'font-family': FONT, 'font-size': 16.5, fill: '#222'});
    t.appendChild(document.createTextNode('\u0394'));
    const s1 = el('tspan', {'font-style': 'italic'}, t); s1.textContent = '\u03c6';
    t.appendChild(document.createTextNode(' ='));
    const n = el('text', {x: 379.3, y: a.cy - 1.5, 'text-anchor': 'middle', 'font-family': FONT, 'font-size': 11.5, 'font-style': 'italic', fill: '#222'});
    n.textContent = num;
    el('line', {x1: 375, x2: 383.6, y1: a.cy + 0.5, y2: a.cy + 0.5, stroke: '#222', 'stroke-width': 0.8});
    const d = el('text', {x: 379.3, y: a.cy + 10.4, 'text-anchor': 'middle', 'font-family': FONT, 'font-size': 11.5, fill: '#222'});
    d.textContent = den;
  }
});
</script></body></html>
